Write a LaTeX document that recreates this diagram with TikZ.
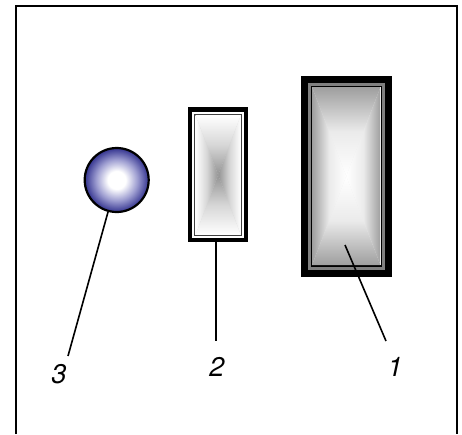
\documentclass[tikz,border=0pt]{standalone}
\usepackage{fontspec}
\setmainfont{TeX Gyre Heros}
\usetikzlibrary{calc}
\definecolor{ballblue}{rgb}{0.20,0.20,0.56}
\definecolor{ballmid}{rgb}{0.62,0.62,0.82}
\pgfdeclareradialshading{ballfade}{\pgfpoint{0bp}{0bp}}{
  color(0bp)=(white); color(7bp)=(white); color(16bp)=(ballmid); color(25bp)=(ballblue); color(50bp)=(ballblue)}
\newcommand{\gradbox}[7]{%
  \coordinate (M) at ({(#1+#3)/2},{(#2+#4)/2});
  \fill[#6] (#1,#2) rectangle (#3,#4);
  \shade[top color=#5,bottom color=#7,middle color=#6] (#1,#2) -- (#3,#2) -- (M) -- cycle;
  \shade[bottom color=#5,top color=#7,middle color=#6] (#1,#4) -- (#3,#4) -- (M) -- cycle;
  \shade[left color=#5,right color=#7,middle color=#6] (#1,#2) -- (#1,#4) -- (M) -- cycle;
  \shade[right color=#5,left color=#7,middle color=#6] (#3,#2) -- (#3,#4) -- (M) -- cycle;
}
\tikzset{
  frameline/.style={line width=2pt},
  leader/.style={line width=1.6pt},
  numlabel/.style={font=\fontsize{27}{30}\selectfont\itshape,inner sep=0pt},
  ball/.style={circle,draw=black,line width=2.2pt,minimum size=64pt,inner sep=0pt,
    shading=ballfade},
}
\begin{document}
\begin{tikzpicture}[x=1pt,y=-1pt]
\useasboundingbox (0,0) rectangle (462,434);
\fill[white] (0,0) rectangle (462,434);
\draw[frameline]
  (15.7,434) -- (15.7,6.3) -- (456.5,6.3) -- (456.5,434);
% large box
\fill[black] (300.7,75.7) rectangle (391.7,277);
\fill[black!50] (307.7,82.7) rectangle (385,269.5);
\fill[black] (310.5,85.5) rectangle (382,266.7);
\gradbox{312}{87}{380.5}{265.2}{black!38}{black!8}{white}
% small box
\fill[black] (187.7,107.3) rectangle (248.3,242.3);
\fill[white] (192.3,111.7) rectangle (244,238.3);
\fill[black!75] (194,113.7) rectangle (242.3,236.3);
\gradbox{195.5}{115.2}{240.8}{234.8}{white}{black!16}{black!42}
% ball
\node[ball] (ball3) at (116.7,180) {};
% labels
\node[numlabel] (lab1) at (395,367) {1};
\node[numlabel] (lab2) at (217,367) {2};
\node[numlabel] (lab3) at (59,374) {3};
\coordinate (tip1) at (345,245);
\coordinate (end1) at (386,341);
\coordinate (tip2) at (216,242);
\coordinate (end2) at (216,341);
\coordinate (tip3) at (108,212);
\coordinate (end3) at (68,356);
\draw[leader] (tip1) -- (end1);
\draw[leader] (tip2) -- (end2);
\draw[leader] (tip3) -- (end3);
\end{tikzpicture}
\end{document}
